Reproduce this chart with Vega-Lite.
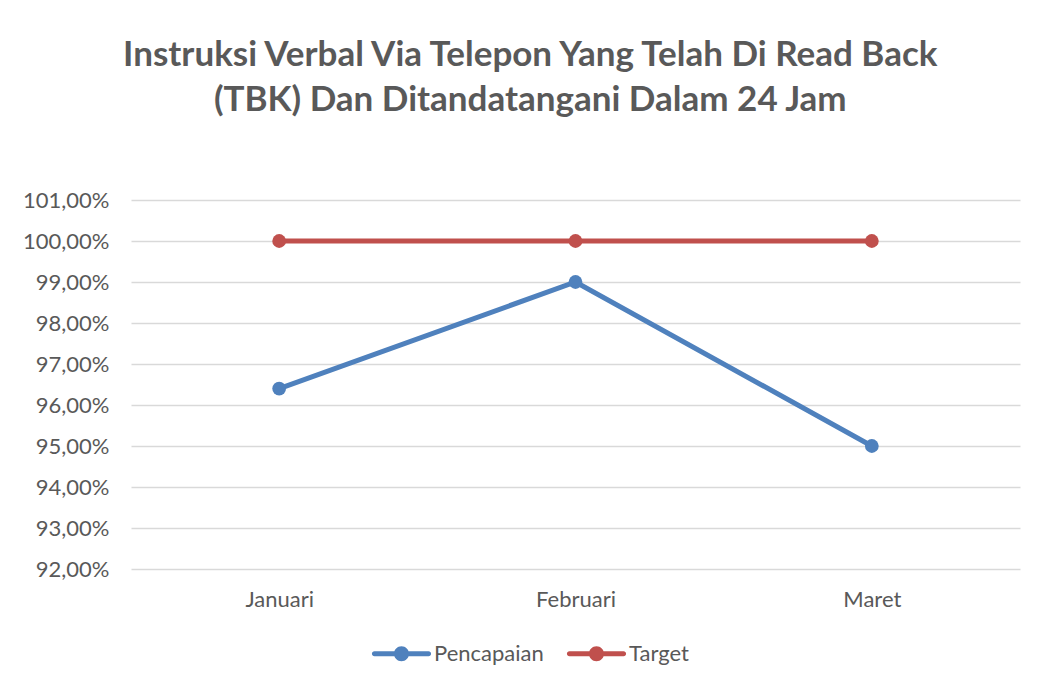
{
  "$schema": "https://vega.github.io/schema/vega-lite/v6.json",
  "width": 889,
  "height": 369,
  "padding": {"left": 22, "top": 38, "right": 21, "bottom": 10},
  "background": "white",
  "title": {
    "text": ["Instruksi Verbal Via Telepon Yang Telah Di Read Back", "(TBK) Dan Ditandatangani Dalam 24 Jam"],
    "font": "Lato",
    "fontSize": 35,
    "fontWeight": "bold",
    "color": "#595959",
    "lineHeight": 45,
    "anchor": "middle",
    "frame": "bounds",
    "dx": 9,
    "offset": 71
  },
  "data": {
    "values": [
      {"bulan": "Januari", "seri": "Pencapaian", "nilai": 0.964},
      {"bulan": "Februari", "seri": "Pencapaian", "nilai": 0.99},
      {"bulan": "Maret", "seri": "Pencapaian", "nilai": 0.95},
      {"bulan": "Januari", "seri": "Target", "nilai": 1.0},
      {"bulan": "Februari", "seri": "Target", "nilai": 1.0},
      {"bulan": "Maret", "seri": "Target", "nilai": 1.0}
    ]
  },
  "mark": {
    "type": "line",
    "strokeWidth": 5,
    "point": {"filled": true, "size": 190, "opacity": 1}
  },
  "encoding": {
    "x": {
      "field": "bulan",
      "type": "nominal",
      "sort": ["Januari", "Februari", "Maret"],
      "scale": {"type": "point", "padding": 0.5},
      "axis": {
        "title": null,
        "domain": false,
        "ticks": false,
        "labelAngle": 0,
        "labelFont": "Lato",
        "labelFontSize": 22,
        "labelColor": "#595959",
        "labelPadding": 20,
        "grid": false
      }
    },
    "y": {
      "field": "nilai",
      "type": "quantitative",
      "scale": {"domain": [0.92, 1.01], "nice": false, "zero": false},
      "axis": {
        "title": null,
        "values": [0.92, 0.93, 0.94, 0.95, 0.96, 0.97, 0.98, 0.99, 1.0, 1.01],
        "labelExpr": "replace(format(datum.value, '.2%'), '.', ',')",
        "domain": false,
        "ticks": false,
        "labelFont": "Lato",
        "labelFontSize": 22,
        "labelColor": "#595959",
        "labelPadding": 22,
        "grid": true,
        "gridColor": "#d9d9d9",
        "gridWidth": 1.4
      }
    },
    "color": {
      "field": "seri",
      "type": "nominal",
      "scale": {"domain": ["Pencapaian", "Target"], "range": ["#4F81BD", "#C0504D"]},
      "legend": {
        "title": null,
        "orient": "none",
        "legendX": 242,
        "legendY": 425,
        "direction": "horizontal",
        "labelFont": "Lato",
        "labelFontSize": 22,
        "labelColor": "#595959",
        "labelOffset": 4,
        "columnPadding": 22,
        "symbolSize": 3249,
        "symbolType": "M-0.95,-0.088 L0.95,-0.088 A0.088,0.088 0 0,1 0.95,0.088 L-0.95,0.088 A0.088,0.088 0 0,1 -0.95,-0.088 Z M0.263,0 A0.263,0.263 0 1,1 -0.263,0 A0.263,0.263 0 1,1 0.263,0 Z",
        "symbolStrokeWidth": 0,
        "encode": {
          "symbols": {
            "update": {
              "fill": {"scale": "color", "field": "value"},
              "fillOpacity": {"value": 1},
              "strokeWidth": {"value": 0}
            }
          }
        }
      }
    }
  },
  "config": {
    "view": {"stroke": null}
  }
}
